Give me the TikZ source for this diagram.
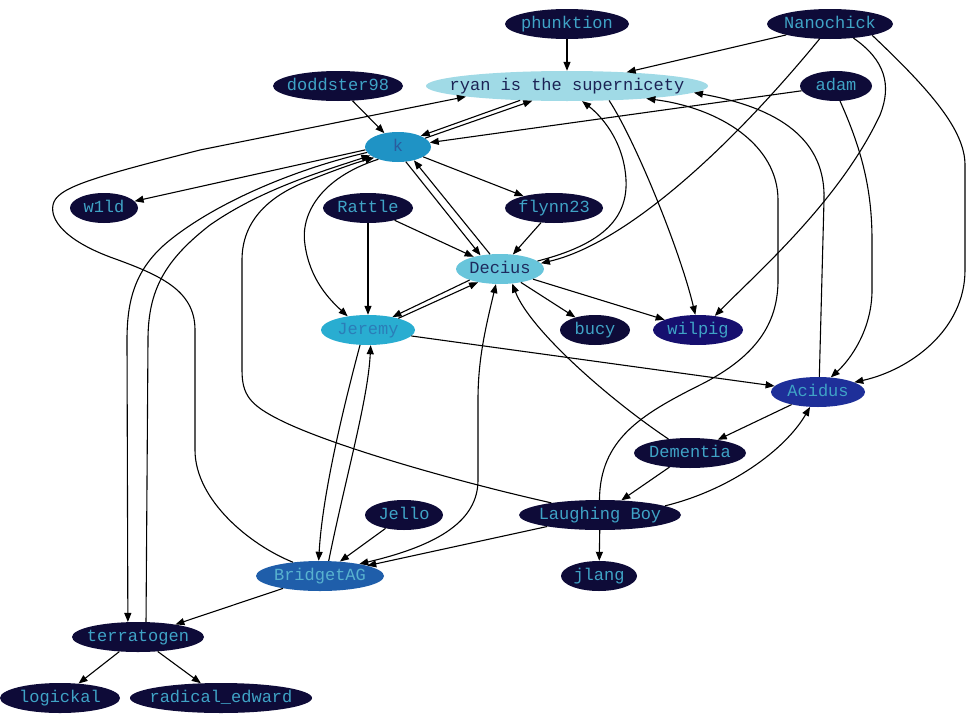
\documentclass[tikz,border=0pt]{standalone}
\usepackage{fontspec}
\newfontfamily\gvfont{Liberation Mono}
\usepackage{tikz}
\usetikzlibrary{shapes.geometric, arrows.meta}

\definecolor{usrdark}{HTML}{0E0B38}
\definecolor{usrtext}{HTML}{3FA3C6}
\definecolor{ryanfill}{HTML}{A0DAE6}
\definecolor{ryantext}{HTML}{1C2355}
\definecolor{kfill}{HTML}{1F93C5}
\definecolor{ktext}{HTML}{2A5C9E}
\definecolor{deciusfill}{HTML}{68C5DB}
\definecolor{deciustext}{HTML}{1E2A5E}
\definecolor{jeremyfill}{HTML}{29ADD1}
\definecolor{jeremytext}{HTML}{2B7DB8}
\definecolor{bridgetfill}{HTML}{1F5EAA}
\definecolor{bridgettext}{HTML}{58B2CF}
\definecolor{wilpigfill}{HTML}{160F6F}
\definecolor{acidusfill}{HTML}{1E2F99}

\newcommand{\nm}[1]{\makebox[0pt]{#1}}

\begin{document}
\begin{tikzpicture}[x=1pt, y=-1pt, >={Triangle[length=9pt,width=7pt]},
    usr/.style={ellipse, fill=usrdark, text=usrtext, inner sep=0pt,
        minimum height=30pt, text height=9.5pt, text depth=0pt,
        font=\fontsize{17}{20}\selectfont\gvfont},
    link/.style={->, line width=1.1pt}]
        \useasboundingbox (0,0) rectangle (980,720);

        % Draw the users
        \node[usr, minimum width=124pt] (phunktion) at (567,24) {\nm{phunktion}};
        \node[usr, minimum width=126pt] (nanochick) at (830,24) {\nm{Nanochick}};
        \node[usr, fill=ryanfill, text=ryantext, minimum width=282pt] (ryan) at (567,86) {\nm{ryan is the supernicety}};
        \node[usr, minimum width=130pt] (doddster) at (338,86) {\nm{doddster98}};
        \node[usr, minimum width=72pt] (adam) at (836,86) {\nm{adam}};
        \node[usr, fill=kfill, text=ktext, minimum width=66pt] (k) at (398,147) {\nm{k}};
        \node[usr, minimum width=68pt] (w1ld) at (104,208) {\nm{w1ld}};
        \node[usr, minimum width=90pt] (rattle) at (368,208) {\nm{Rattle}};
        \node[usr, minimum width=98pt] (flynn) at (554,208) {\nm{flynn23}};
        \node[usr, fill=deciusfill, text=deciustext, minimum width=88pt] (decius) at (500,269) {\nm{Decius}};
        \node[usr, fill=jeremyfill, text=jeremytext, minimum width=94pt] (jeremy) at (368,330) {\nm{Jeremy}};
        \node[usr, minimum width=70pt] (bucy) at (595,330) {\nm{bucy}};
        \node[usr, fill=wilpigfill, minimum width=90pt] (wilpig) at (698,330) {\nm{wilpig}};
        \node[usr, fill=acidusfill, minimum width=94pt] (acidus) at (818,392) {\nm{Acidus}};
        \node[usr, minimum width=112pt] (dementia) at (690,453) {\nm{Dementia}};
        \node[usr, minimum width=78pt] (jello) at (404,515) {\nm{Jello}};
        \node[usr, minimum width=162pt] (laughing) at (600,515) {\nm{Laughing Boy}};
        \node[usr, fill=bridgetfill, text=bridgettext, minimum width=128pt] (bridget) at (320,576) {\nm{BridgetAG}};
        \node[usr, minimum width=76pt] (jlang) at (599,576) {\nm{jlang}};
        \node[usr, minimum width=132pt] (terratogen) at (138,637) {\nm{terratogen}};
        \node[usr, minimum width=120pt] (logickal) at (60,698) {\nm{logickal}};
        \node[usr, minimum width=182pt] (radical) at (221,698) {\nm{radical\_edward}};

        % Edges at the top
        \draw[link] (phunktion) -- (ryan);
        \draw[link] (nanochick.194) -- (ryan.13);
        \draw[link] (nanochick.235) .. controls (720,160) and (620,245) .. (decius.8);
        \draw[link] (nanochick.329) .. controls (885,60) and (892,85) .. (880,115) .. controls (840,200) and (760,270) .. (wilpig.40);
        \draw[link] (nanochick.345) .. controls (930,90) and (965,130) .. (965,165) -- (965,270) .. controls (965,330) and (910,370) .. (acidus.15);
        \draw[link] (adam) -- (k);
        \draw[link] (adam.285) .. controls (862,150) and (872,190) .. (872,240) -- (872,290) .. controls (872,330) and (850,360) .. (acidus.49);
        \draw[link] (doddster) -- (k);
        \draw[link] (ryan.197) -- (k.26);
        \draw[link] (k.18) -- (ryan.203);

        % Long edges into ryan
        \draw[link] (bridget.153) .. controls (250,545) and (195,500) .. (195,450) -- (195,330) .. controls (195,290) and (160,275) .. (110,257) .. controls (65,240) and (50,220) .. (53,205) .. controls (56,188) and (90,178) .. (200,150) -- (ryan.186);
        \draw[link] (decius.12) .. controls (600,245) and (628,220) .. (626,180) .. controls (624,140) and (600,115) .. (ryan.315);
        \draw[link] (ryan.341) .. controls (635,140) and (680,250) .. (wilpig.100);
        \draw[link] (laughing.92) .. controls (600,440) and (640,415) .. (700,385) .. controls (760,355) and (778,320) .. (778,280) -- (778,200) .. controls (778,145) and (720,108) .. (ryan.351.5);
        \draw[link] (acidus.85) -- (824,200) .. controls (826,140) and (780,108) .. (ryan.357);

        % Edges round k
        \draw[link] (k.185) -- (w1ld);
        \draw[link] (k) -- (flynn);
        \draw[link] (k.298) -- (decius.145);
        \draw[link] (decius.124) -- (k.320);
        \draw[link] (k.212) .. controls (320,178) and (300,215) .. (305,245) .. controls (310,280) and (330,300) .. (jeremy.146);
        \draw[link] (k.190) .. controls (300,168) and (220,200) .. (170,240) .. controls (135,268) and (127,300) .. (127,340) -- (terratogen.124);
        \draw[link] (terratogen.62) -- (148,340) .. controls (148,290) and (165,260) .. (210,225) .. controls (260,190) and (320,172) .. (k.197);
        \draw[link] (laughing.166) .. controls (450,480) and (330,445) .. (280,420) .. controls (250,405) and (242,395) .. (242,370) -- (242,260) .. controls (242,220) and (270,195) .. (310,180) .. controls (335,170) and (355,163) .. (k.204);

        % Edges in the middle
        \draw[link] (rattle) -- (jeremy);
        \draw[link] (rattle) -- (decius);
        \draw[link] (flynn) -- (decius);
        \draw[link] (decius.200) -- (jeremy.28);
        \draw[link] (jeremy.21) -- (decius.211);
        \draw[link] (decius) -- (bucy);
        \draw[link] (decius) -- (wilpig);
        \draw[link] (jeremy) -- (acidus);
        \draw[link] (acidus) -- (dementia);
        \draw[link] (dementia) -- (laughing);
        \draw[link] (laughing.8) .. controls (730,490) and (785,450) .. (acidus.242);
        \draw[link] (dementia.147) .. controls (610,400) and (530,330) .. (decius.310);

        % Edges at the bottom
        \draw[link] (laughing) -- (jlang);
        \draw[link] (laughing) -- (bridget);
        \draw[link, <->] (bridget.17) .. controls (440,545) and (478,520) .. (478,480) -- (478,400) .. controls (478,360) and (485,330) .. (decius.255);
        \draw[link] (jeremy.242) .. controls (340,420) and (322,500) .. (bridget.95);
        \draw[link] (bridget.60) .. controls (345,480) and (368,400) .. (jeremy.280);
        \draw[link] (jello) -- (bridget);
        \draw[link] (bridget) -- (terratogen);
        \draw[link] (terratogen) -- (logickal);
        \draw[link] (terratogen) -- (radical);
    \end{tikzpicture}
\end{document}
